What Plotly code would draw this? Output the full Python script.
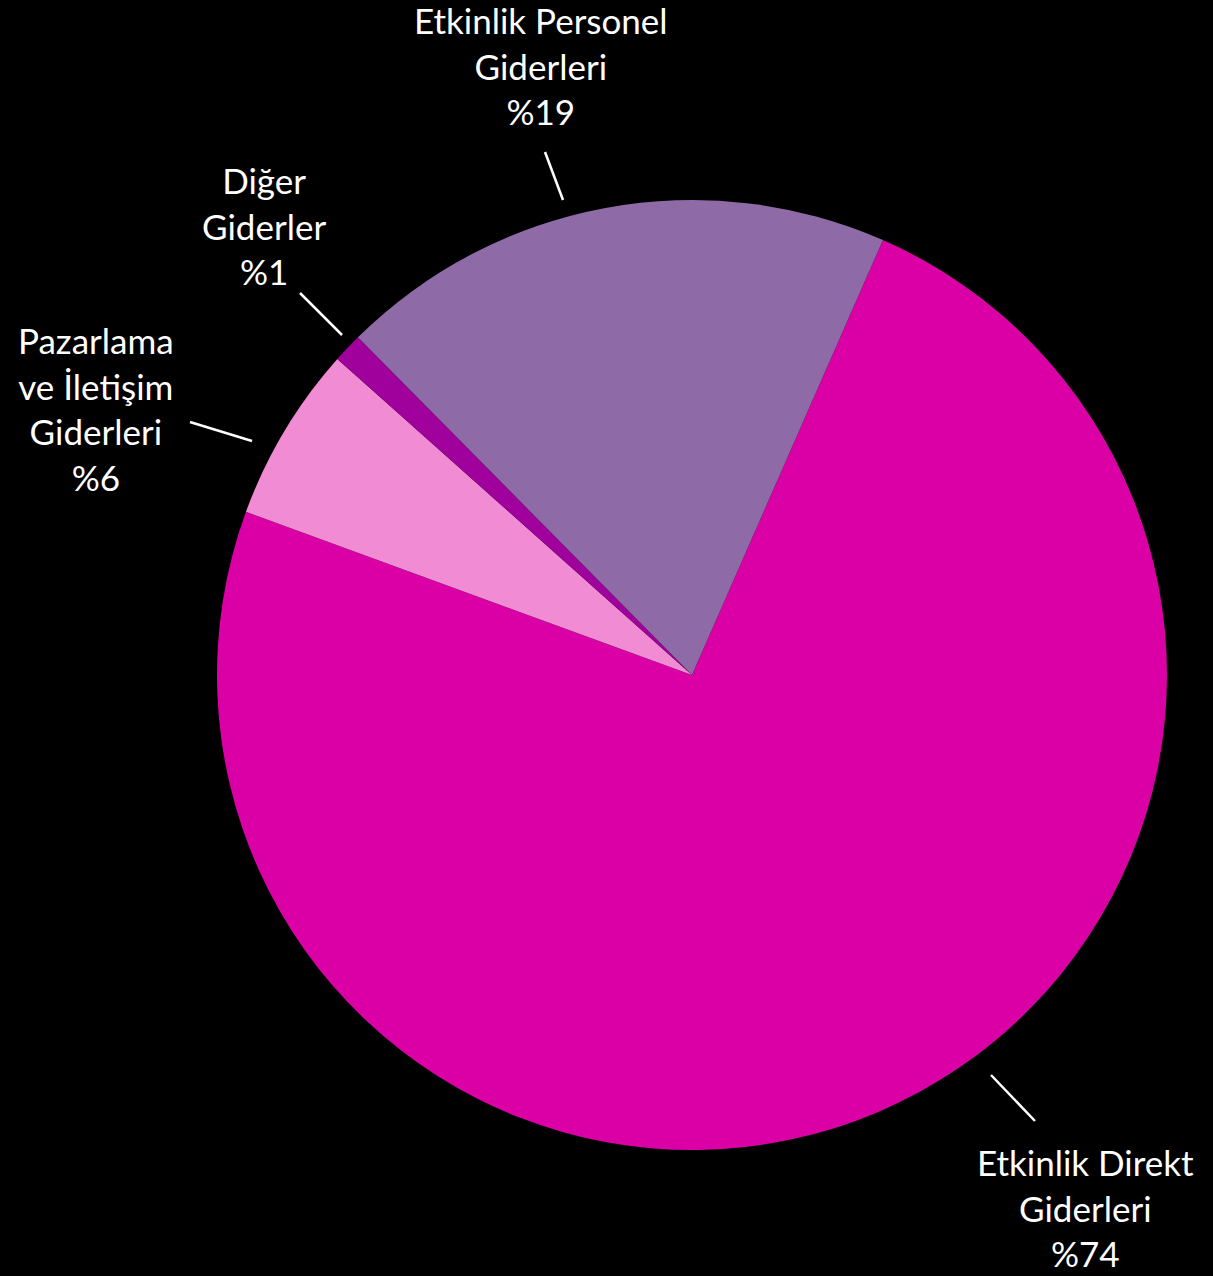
import plotly.graph_objects as go

# ---- data ----
categories = ["Etkinlik Direkt Giderleri", "Pazarlama ve İletişim Giderleri", "Diğer Giderler", "Etkinlik Personel Giderleri"]
values = [74, 6, 1, 19]
label_texts = ["Etkinlik Direkt<br>Giderleri", "Pazarlama<br>ve İletişim<br>Giderleri", "Diğer<br>Giderler", "Etkinlik Personel<br>Giderleri"]

# ---- style ----
colors = ["#DB00A5", "#F08BD4", "#A0009C", "#8E6AA6"]
W, H = 1213, 1276
CX, CY, R = 692, 675, 475
FONT = "Lato"
FS = 35
START_ANGLE = 23.7  # degrees clockwise from 12 o'clock where first slice begins
# label centers (px) and leader lines (px), layout only
label_pos = [(1085, 1207), (96, 408), (264, 226), (541, 66)]
leader = [((991, 1075), (1035, 1121)), ((190, 422), (252, 441)), ((300, 293), (342, 335)), ((545, 152), (563, 200))]

def px(x):
    return x / W

def py(y):
    return 1 - y / H

total = sum(values)
fig = go.Figure(go.Pie(
    labels=categories, values=values, sort=False, direction="clockwise",
    rotation=START_ANGLE,
    marker=dict(colors=colors, line=dict(width=0)),
    textinfo="none", hoverinfo="label+percent", showlegend=False,
    domain=dict(x=[px(CX - R), px(CX + R)], y=[py(CY + R), py(CY - R)]),
))

for txt, v, (lx, ly) in zip(label_texts, values, label_pos):
    pct = round(100 * v / total)
    fig.add_annotation(x=px(lx), y=py(ly), xref="paper", yref="paper",
                       text=f"{txt}<br>%{pct}", showarrow=False,
                       xanchor="center", yanchor="middle", align="center",
                       font=dict(family=FONT, size=FS, color="white"))

for (a, b) in leader:
    fig.add_shape(type="line", xref="paper", yref="paper",
                  x0=px(a[0]), y0=py(a[1]), x1=px(b[0]), y1=py(b[1]),
                  line=dict(color="white", width=2.5))

fig.update_layout(width=W, height=H, margin=dict(l=0, r=0, t=0, b=0),
                  paper_bgcolor="black", plot_bgcolor="black")
fig.write_html("out.html", config={"displayModeBar": False},
               post_script="document.body.style.margin='0';document.body.style.background='black';")
